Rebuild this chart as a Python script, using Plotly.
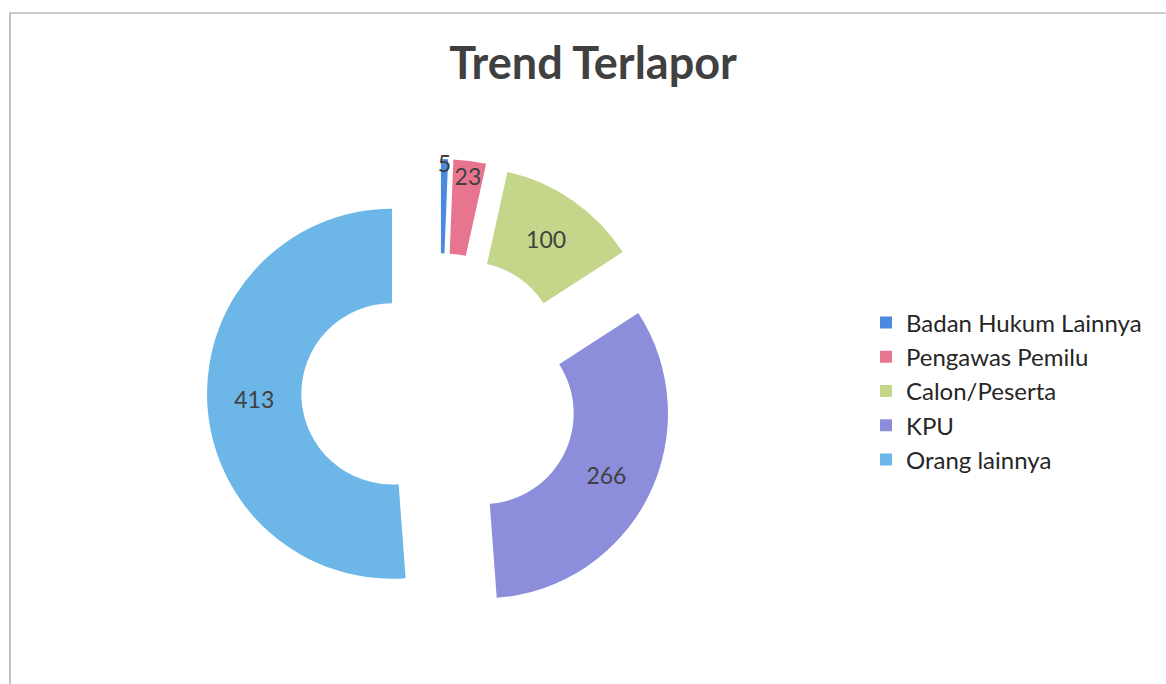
import plotly.graph_objects as go

labels = ["Badan Hukum Lainnya", "Pengawas Pemilu", "Calon/Peserta", "KPU", "Orang lainnya"]
values = [5, 23, 100, 266, 413]
colors = ["#4A8BDF", "#E8758F", "#C4D68A", "#8C8EDC", "#6DB6E8"]

W, H = 1166, 684

fig = go.Figure(go.Pie(
    labels=labels,
    values=values,
    sort=False,
    direction="clockwise",
    rotation=0,
    hole=0.49,
    pull=[0.26] * len(values),
    marker=dict(colors=colors, line=dict(width=0)),
    textinfo="value",
    textposition="inside",
    insidetextorientation="horizontal",
    textfont=dict(family="Lato, sans-serif", size=23, color="#404040"),
    domain=dict(x=[207 / W, 673 / W], y=[1 - 625 / H, 1 - 159 / H]),
))

fig.update_layout(
    width=W, height=H,
    margin=dict(l=0, r=0, t=0, b=0),
    paper_bgcolor="white",
    plot_bgcolor="white",
    uniformtext=dict(minsize=23, mode="show"),
    title=dict(
        text="<b>Trend Terlapor</b>",
        x=593 / W, xanchor="center",
        y=1 - 63 / H, yanchor="middle",
        font=dict(family="Lato, sans-serif", size=45, color="#404040"),
    ),
    legend=dict(
        x=866 / W, xanchor="left",
        y=1 - 391 / H, yanchor="middle",
        font=dict(family="Lato, sans-serif", size=24, color="#262626"),
        bgcolor="rgba(0,0,0,0)",
    ),
    shapes=[
        dict(type="rect", xref="paper", yref="paper",
             x0=10 / W, x1=1.02, y0=-0.02, y1=1 - 13 / H,
             line=dict(color="#9A9A9A", width=1.2), fillcolor="rgba(0,0,0,0)"),
    ],
)

fig.write_html("out.html", config={"displayModeBar": False},
               post_script="document.body.style.margin='0';")
